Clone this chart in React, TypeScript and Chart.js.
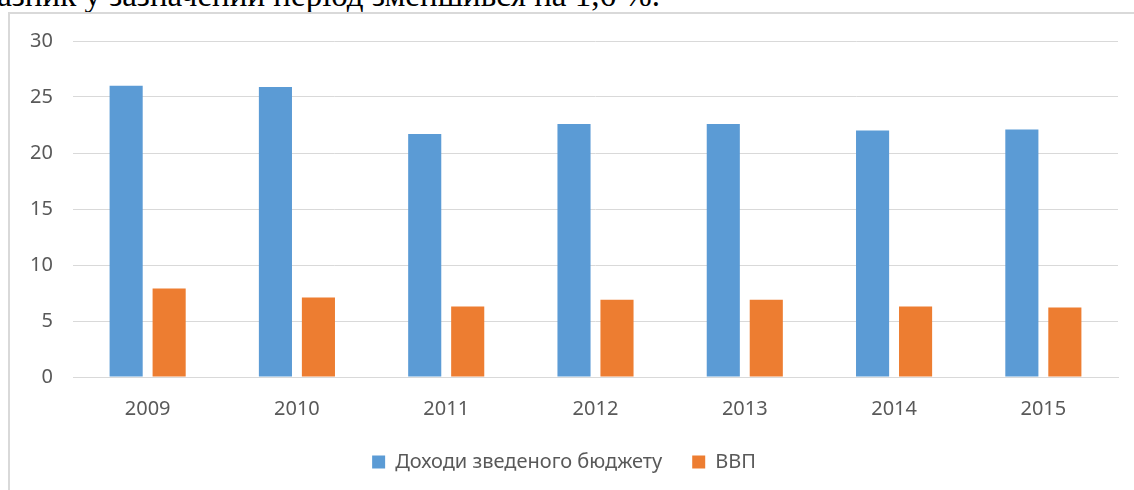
import React, { useEffect, useRef } from "react";
import { Chart, registerables } from "chart.js";

Chart.register(...registerables);

const categories = ["2009", "2010", "2011", "2012", "2013", "2014", "2015"];
const budgetRevenue = [26.0, 25.9, 21.7, 22.6, 22.6, 22.0, 22.1];
const gdp = [7.9, 7.1, 6.3, 6.9, 6.9, 6.3, 6.2];
const seriesNames = ["Доходи зведеного бюджету", "ВВП"];
const yTicks = [0, 5, 10, 15, 20, 25, 30];
const captionText = "Показник у зазначений період зменшився на 1,6 %.";

export default function App() {
  const ref = useRef<HTMLCanvasElement | null>(null);

  useEffect(() => {
    document.body.style.margin = "0";
    const ctx = ref.current!;
    const font = "'Noto Sans', 'DejaVu Sans', sans-serif";
    const chart = new Chart(ctx, {
      type: "bar",
      data: {
        labels: categories,
        datasets: [
          {
            label: seriesNames[0],
            data: budgetRevenue,
            backgroundColor: "#5b9bd5",
            barPercentage: 0.77,
            categoryPercentage: 0.576,
          },
          {
            label: seriesNames[1],
            data: gdp,
            backgroundColor: "#ed7d31",
            barPercentage: 0.77,
            categoryPercentage: 0.576,
          },
        ],
      },
      options: {
        animation: false,
        responsive: false,
        maintainAspectRatio: false,
        layout: { padding: { top: 9, right: 16, left: 0, bottom: 8 } },
        plugins: {
          tooltip: { enabled: false },
          legend: {
            position: "bottom",
            labels: {
              color: "#595959",
              font: { family: font, size: 20 },
              boxWidth: 13,
              boxHeight: 13,
              padding: 30,
            },
          },
        },
        scales: {
          x: {
            grid: { display: false, drawTicks: false },
            border: { display: true, color: "#d9d9d9", width: 1 },
            ticks: {
              color: "#595959",
              font: { family: font, size: 20 },
              padding: 20,
            },
            afterFit: (s: any) => {
              s.height = 45;
            },
          },
          y: {
            min: 0,
            max: 30,
            afterBuildTicks: (s: any) => {
              s.ticks = yTicks.map((v) => ({ value: v }));
            },
            grid: { color: "#d9d9d9", drawTicks: false },
            border: { display: false },
            ticks: {
              color: "#595959",
              font: { family: font, size: 20 },
              padding: 20,
            },
            afterFit: (s: any) => {
              s.width = 63;
            },
          },
        },
      },
    });
    return () => chart.destroy();
  }, []);

  return (
    <div
      style={{
        position: "relative",
        width: 1134,
        height: 490,
        overflow: "hidden",
        background: "#fff",
      }}
    >
      <div
        style={{
          position: "absolute",
          right: 474,
          top: -23,
          fontFamily: "'Liberation Serif', 'Times New Roman', serif",
          fontSize: 33,
          whiteSpace: "nowrap",
          color: "#000",
        }}
      >
        {captionText}
      </div>
      <div
        style={{
          position: "absolute",
          left: 8,
          top: 12,
          width: 1140,
          height: 490,
          border: "2px solid #d9d9d9",
          background: "#fff",
        }}
      />
      <canvas
        ref={ref}
        width={1124}
        height={481}
        style={{ position: "absolute", left: 10, top: 9, width: 1124, height: 481 }}
      />
    </div>
  );
}
